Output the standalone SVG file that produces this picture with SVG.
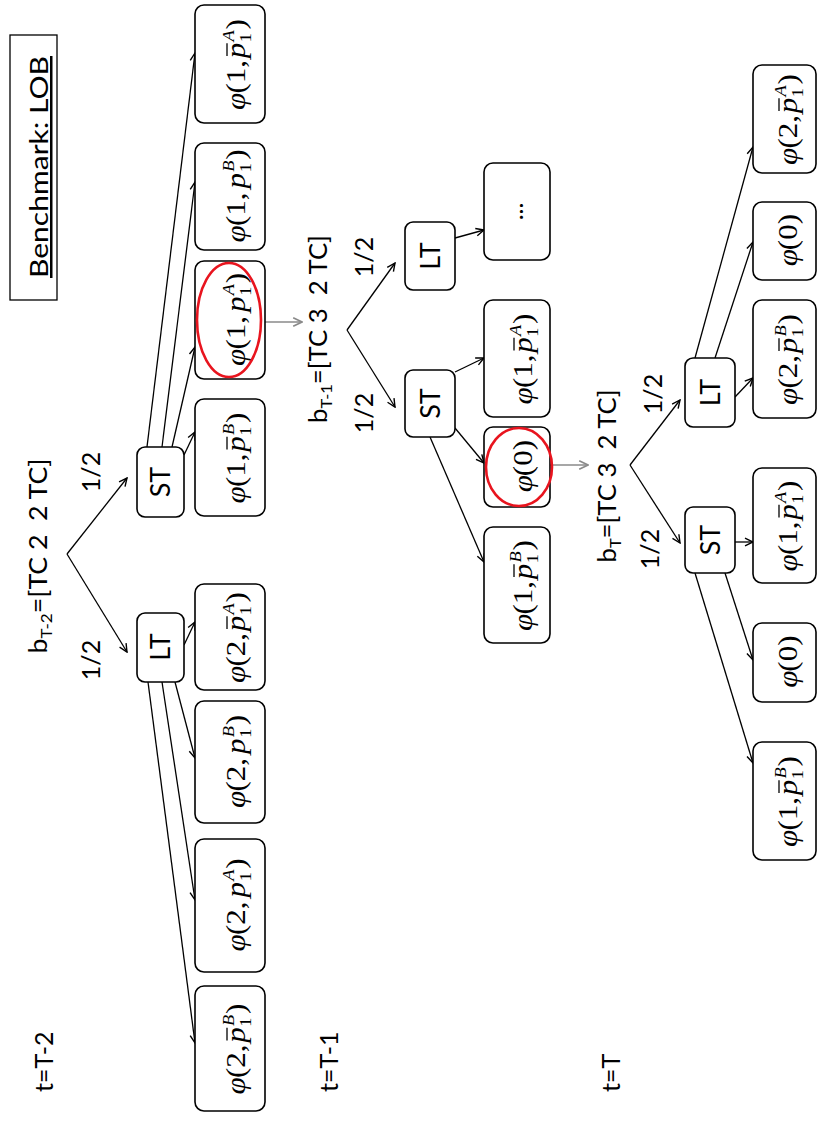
<svg xmlns="http://www.w3.org/2000/svg" width="817" height="1121" viewBox="0 0 817 1121">
  <defs>
    <style>
      .box { fill: #fff; stroke: #000; stroke-width: 1.6; }
      .frame { fill: #fff; stroke: #000; stroke-width: 1.3; }
      .lab { font-family: Lato, "Liberation Sans", sans-serif; font-size: 25px; fill: #000; }
      .big { font-size: 27px; }
      .m { font-family: "Liberation Serif", serif; font-size: 27px; fill: #000; }
      .it { font-style: italic; }
      .s { font-size: 16px; }
      .bar { stroke: #000; stroke-width: 1.3; }
      .c { stroke: #000; stroke-width: 1.3; fill: none; marker-end: url(#arr); }
      .g { stroke: #8a8a8a; stroke-width: 1.6; fill: none; marker-end: url(#arrg); }
      .ring { fill: none; stroke: #e8141e; stroke-width: 2.6; }
    </style>
    <marker id="arr" viewBox="0 0 10 10" refX="9" refY="5" markerWidth="10" markerHeight="10" orient="auto" markerUnits="userSpaceOnUse">
      <path d="M1,1.2 L9,5 L1,8.8" fill="none" stroke="#000" stroke-width="1.4"/>
    </marker>
    <marker id="arrg" viewBox="0 0 10 10" refX="9" refY="5" markerWidth="11" markerHeight="11" orient="auto" markerUnits="userSpaceOnUse">
      <path d="M1,1.2 L9,5 L1,8.8" fill="none" stroke="#8a8a8a" stroke-width="1.5"/>
    </marker>
  </defs>

  <rect width="817" height="1121" fill="#fff"/>

  <!-- title -->
  <g id="title">
    <rect class="frame" x="10" y="35" width="47" height="265"/>
    <text class="lab" transform="translate(48,167) rotate(-90)" text-anchor="middle" text-decoration="underline" font-size="27" textLength="222" lengthAdjust="spacingAndGlyphs">Benchmark: LOB</text>
  </g>

  <!-- period labels -->
  <g id="periods" class="lab">
    <text transform="translate(53,1092) rotate(-90)">t=T-2</text>
    <text transform="translate(338,1092) rotate(-90)">t=T-1</text>
    <text transform="translate(620,1092) rotate(-90)">t=T</text>
  </g>

  <!-- belief states and branch probabilities -->
  <g id="beliefs" class="lab">
    <text transform="translate(47,556) rotate(-90)" text-anchor="middle" textLength="195" lengthAdjust="spacingAndGlyphs">b<tspan class="s" dy="5">T-2</tspan><tspan dy="-5">=[TC 2&#160; 2 TC]</tspan></text>
    <text transform="translate(327,329) rotate(-90)" text-anchor="middle" textLength="188" lengthAdjust="spacingAndGlyphs">b<tspan class="s" dy="5">T-1</tspan><tspan dy="-5">=[TC 3&#160; 2 TC]</tspan></text>
    <text transform="translate(616,476) rotate(-90)" text-anchor="middle" textLength="173" lengthAdjust="spacingAndGlyphs">b<tspan class="s" dy="5">T</tspan><tspan dy="-5">=[TC 3&#160; 2 TC]</tspan></text>
    <text transform="translate(100,472) rotate(-90)" text-anchor="middle">1/2</text>
    <text transform="translate(100,660) rotate(-90)" text-anchor="middle">1/2</text>
    <text transform="translate(373,257) rotate(-90)" text-anchor="middle">1/2</text>
    <text transform="translate(373,413) rotate(-90)" text-anchor="middle">1/2</text>
    <text transform="translate(662,394) rotate(-90)" text-anchor="middle">1/2</text>
    <text transform="translate(659,549) rotate(-90)" text-anchor="middle">1/2</text>
  </g>

  <!-- connectors -->
  <g id="connectors">
    <!-- t = T-2 -->
    <line class="c" x1="67" y1="554" x2="127" y2="478"/>
    <line class="c" x1="67" y1="554" x2="127" y2="652"/>
    <line class="c" x1="147" y1="447" x2="195" y2="53"/>
    <line class="c" x1="162" y1="447" x2="195" y2="182"/>
    <line class="c" x1="172" y1="447" x2="195" y2="347"/>
    <line class="c" x1="184" y1="455" x2="195" y2="432"/>
    <line class="c" x1="184" y1="645" x2="195" y2="622"/>
    <line class="c" x1="175" y1="682" x2="195" y2="758"/>
    <line class="c" x1="162" y1="682" x2="195" y2="900"/>
    <line class="c" x1="148" y1="682" x2="195" y2="1043"/>
    <line class="g" x1="265" y1="322" x2="302" y2="322"/>
    <!-- t = T-1 -->
    <line class="c" x1="347" y1="330" x2="395" y2="263"/>
    <line class="c" x1="347" y1="330" x2="395" y2="407"/>
    <line class="c" x1="455" y1="238" x2="484" y2="230"/>
    <line class="c" x1="455" y1="372" x2="484" y2="358"/>
    <line class="c" x1="455" y1="428" x2="484" y2="463"/>
    <line class="c" x1="430" y1="437" x2="484" y2="562"/>
    <line class="g" x1="550" y1="465" x2="588" y2="465"/>
    <!-- t = T -->
    <line class="c" x1="630" y1="465" x2="680" y2="400"/>
    <line class="c" x1="630" y1="465" x2="680" y2="543"/>
    <line class="c" x1="695" y1="358" x2="753" y2="147"/>
    <line class="c" x1="715" y1="358" x2="753" y2="242"/>
    <line class="c" x1="735" y1="397" x2="753" y2="378"/>
    <line class="c" x1="735" y1="542" x2="753" y2="542"/>
    <line class="c" x1="725" y1="573" x2="753" y2="660"/>
    <line class="c" x1="695" y1="573" x2="753" y2="763"/>
  </g>

  <!-- t = T-2 : decisions -->
  <g id="st1">
    <rect class="box" x="137" y="447" width="47" height="70" rx="8"/>
    <text class="lab big" transform="translate(170,482) rotate(-90)" text-anchor="middle">ST</text>
  </g>
  <g id="lt1">
    <rect class="box" x="137" y="613" width="47" height="69" rx="8"/>
    <text class="lab big" transform="translate(170,647) rotate(-90)" text-anchor="middle">LT</text>
  </g>

  <!-- t = T-2 : outcomes -->
  <g id="n1a">
    <rect class="box" x="195" y="5" width="70" height="118" rx="9"/>
    <g class="m" transform="translate(245,64) rotate(-90) scale(1.15,1)">
      <text><tspan class="it" x="-40">φ</tspan><tspan x="-25.7">(1,</tspan><tspan class="it" x="5">p</tspan><tspan class="s" x="19" y="6">1</tspan><tspan class="s it" x="19.5" y="-11">A</tspan><tspan x="30" y="0">)</tspan></text>
      <line class="bar" x1="7" y1="-18" x2="18" y2="-18"/>
    </g>
  </g>
  <g id="n1b">
    <rect class="box" x="195" y="143" width="70" height="107" rx="9"/>
    <g class="m" transform="translate(245,196.5) rotate(-90) scale(1.15,1)">
      <text><tspan class="it" x="-40">φ</tspan><tspan x="-25.7">(1,</tspan><tspan class="it" x="7">p</tspan><tspan class="s" x="21" y="6">1</tspan><tspan class="s it" x="21.5" y="-11">B</tspan><tspan x="32" y="0">)</tspan></text>
    </g>
  </g>
  <g id="n1c">
    <rect class="box" x="195" y="261" width="70" height="118" rx="9"/>
    <g class="m" transform="translate(245,320) rotate(-90) scale(1.15,1)">
      <text><tspan class="it" x="-40">φ</tspan><tspan x="-25.7">(1,</tspan><tspan class="it" x="7">p</tspan><tspan class="s" x="21" y="6">1</tspan><tspan class="s it" x="21.5" y="-11">A</tspan><tspan x="32" y="0">)</tspan></text>
    </g>
    <ellipse class="ring" cx="229" cy="320" rx="32" ry="57"/>
  </g>
  <g id="n1d">
    <rect class="box" x="195" y="399" width="70" height="117" rx="9"/>
    <g class="m" transform="translate(245,457.5) rotate(-90) scale(1.15,1)">
      <text><tspan class="it" x="-40">φ</tspan><tspan x="-25.7">(1,</tspan><tspan class="it" x="5">p</tspan><tspan class="s" x="19" y="6">1</tspan><tspan class="s it" x="19.5" y="-11">B</tspan><tspan x="30" y="0">)</tspan></text>
      <line class="bar" x1="7" y1="-18" x2="18" y2="-18"/>
    </g>
  </g>
  <g id="n1e">
    <rect class="box" x="195" y="584" width="70" height="106" rx="9"/>
    <g class="m" transform="translate(245,637) rotate(-90) scale(1.15,1)">
      <text><tspan class="it" x="-40">φ</tspan><tspan x="-25.7">(2,</tspan><tspan class="it" x="5">p</tspan><tspan class="s" x="19" y="6">1</tspan><tspan class="s it" x="19.5" y="-11">A</tspan><tspan x="30" y="0">)</tspan></text>
      <line class="bar" x1="7" y1="-18" x2="18" y2="-18"/>
    </g>
  </g>
  <g id="n1f">
    <rect class="box" x="195" y="701" width="70" height="122" rx="9"/>
    <g class="m" transform="translate(245,762) rotate(-90) scale(1.15,1)">
      <text><tspan class="it" x="-40">φ</tspan><tspan x="-25.7">(2,</tspan><tspan class="it" x="7">p</tspan><tspan class="s" x="21" y="6">1</tspan><tspan class="s it" x="21.5" y="-11">B</tspan><tspan x="32" y="0">)</tspan></text>
    </g>
  </g>
  <g id="n1g">
    <rect class="box" x="195" y="839" width="70" height="133" rx="9"/>
    <g class="m" transform="translate(245,905.5) rotate(-90) scale(1.15,1)">
      <text><tspan class="it" x="-40">φ</tspan><tspan x="-25.7">(2,</tspan><tspan class="it" x="7">p</tspan><tspan class="s" x="21" y="6">1</tspan><tspan class="s it" x="21.5" y="-11">A</tspan><tspan x="32" y="0">)</tspan></text>
    </g>
  </g>
  <g id="n1h">
    <rect class="box" x="195" y="986" width="70" height="125" rx="9"/>
    <g class="m" transform="translate(245,1048.5) rotate(-90) scale(1.15,1)">
      <text><tspan class="it" x="-40">φ</tspan><tspan x="-25.7">(2,</tspan><tspan class="it" x="5">p</tspan><tspan class="s" x="19" y="6">1</tspan><tspan class="s it" x="19.5" y="-11">B</tspan><tspan x="30" y="0">)</tspan></text>
      <line class="bar" x1="7" y1="-18" x2="18" y2="-18"/>
    </g>
  </g>

  <!-- t = T-1 : decisions -->
  <g id="lt2">
    <rect class="box" x="405" y="222" width="50" height="68" rx="8"/>
    <text class="lab big" transform="translate(440,256) rotate(-90)" text-anchor="middle">LT</text>
  </g>
  <g id="st2">
    <rect class="box" x="405" y="370" width="50" height="67" rx="8"/>
    <text class="lab big" transform="translate(440,403.5) rotate(-90)" text-anchor="middle">ST</text>
  </g>

  <!-- t = T-1 : outcomes -->
  <g id="n2a">
    <rect class="box" x="484" y="163" width="66" height="97" rx="9"/>
    <text class="lab" transform="translate(523,211.5) rotate(-90)" text-anchor="middle">...</text>
  </g>
  <g id="n2b">
    <rect class="box" x="484" y="300" width="66" height="117" rx="9"/>
    <g class="m" transform="translate(532,358.5) rotate(-90) scale(1.15,1)">
      <text><tspan class="it" x="-40">φ</tspan><tspan x="-25.7">(1,</tspan><tspan class="it" x="5">p</tspan><tspan class="s" x="19" y="6">1</tspan><tspan class="s it" x="19.5" y="-11">A</tspan><tspan x="30" y="0">)</tspan></text>
      <line class="bar" x1="7" y1="-18" x2="18" y2="-18"/>
    </g>
  </g>
  <g id="n2c">
    <rect class="box" x="484" y="427" width="66" height="80" rx="9"/>
    <g class="m" transform="translate(532,467) rotate(-90) scale(1.15,1)">
      <text><tspan class="it" x="-22">φ</tspan><tspan x="-8">(0)</tspan></text>
    </g>
    <ellipse class="ring" cx="519" cy="467" rx="33" ry="39"/>
  </g>
  <g id="n2d">
    <rect class="box" x="484" y="527" width="66" height="116" rx="9"/>
    <g class="m" transform="translate(532,585) rotate(-90) scale(1.15,1)">
      <text><tspan class="it" x="-40">φ</tspan><tspan x="-25.7">(1,</tspan><tspan class="it" x="5">p</tspan><tspan class="s" x="19" y="6">1</tspan><tspan class="s it" x="19.5" y="-11">B</tspan><tspan x="30" y="0">)</tspan></text>
      <line class="bar" x1="7" y1="-18" x2="18" y2="-18"/>
    </g>
  </g>

  <!-- t = T : decisions -->
  <g id="lt3">
    <rect class="box" x="685" y="358" width="50" height="69" rx="8"/>
    <text class="lab big" transform="translate(720,392.5) rotate(-90)" text-anchor="middle">LT</text>
  </g>
  <g id="st3">
    <rect class="box" x="685" y="507" width="50" height="66" rx="8"/>
    <text class="lab big" transform="translate(720,540) rotate(-90)" text-anchor="middle">ST</text>
  </g>

  <!-- t = T : outcomes -->
  <g id="n3a">
    <rect class="box" x="753" y="65" width="63" height="108" rx="9"/>
    <g class="m" transform="translate(797,119) rotate(-90) scale(1.15,1)">
      <text><tspan class="it" x="-40">φ</tspan><tspan x="-25.7">(2,</tspan><tspan class="it" x="5">p</tspan><tspan class="s" x="19" y="6">1</tspan><tspan class="s it" x="19.5" y="-11">A</tspan><tspan x="30" y="0">)</tspan></text>
      <line class="bar" x1="7" y1="-18" x2="18" y2="-18"/>
    </g>
  </g>
  <g id="n3b">
    <rect class="box" x="753" y="202" width="63" height="78" rx="9"/>
    <g class="m" transform="translate(797,241) rotate(-90) scale(1.15,1)">
      <text><tspan class="it" x="-22">φ</tspan><tspan x="-8">(0)</tspan></text>
    </g>
  </g>
  <g id="n3c">
    <rect class="box" x="753" y="300" width="63" height="118" rx="9"/>
    <g class="m" transform="translate(797,359) rotate(-90) scale(1.15,1)">
      <text><tspan class="it" x="-40">φ</tspan><tspan x="-25.7">(2,</tspan><tspan class="it" x="5">p</tspan><tspan class="s" x="19" y="6">1</tspan><tspan class="s it" x="19.5" y="-11">B</tspan><tspan x="30" y="0">)</tspan></text>
      <line class="bar" x1="7" y1="-18" x2="18" y2="-18"/>
    </g>
  </g>
  <g id="n3d">
    <rect class="box" x="753" y="468" width="63" height="115" rx="9"/>
    <g class="m" transform="translate(797,525.5) rotate(-90) scale(1.15,1)">
      <text><tspan class="it" x="-40">φ</tspan><tspan x="-25.7">(1,</tspan><tspan class="it" x="5">p</tspan><tspan class="s" x="19" y="6">1</tspan><tspan class="s it" x="19.5" y="-11">A</tspan><tspan x="30" y="0">)</tspan></text>
      <line class="bar" x1="7" y1="-18" x2="18" y2="-18"/>
    </g>
  </g>
  <g id="n3e">
    <rect class="box" x="753" y="623" width="63" height="79" rx="9"/>
    <g class="m" transform="translate(797,662.5) rotate(-90) scale(1.15,1)">
      <text><tspan class="it" x="-22">φ</tspan><tspan x="-8">(0)</tspan></text>
    </g>
  </g>
  <g id="n3f">
    <rect class="box" x="753" y="742" width="63" height="118" rx="9"/>
    <g class="m" transform="translate(797,801) rotate(-90) scale(1.15,1)">
      <text><tspan class="it" x="-40">φ</tspan><tspan x="-25.7">(1,</tspan><tspan class="it" x="5">p</tspan><tspan class="s" x="19" y="6">1</tspan><tspan class="s it" x="19.5" y="-11">B</tspan><tspan x="30" y="0">)</tspan></text>
      <line class="bar" x1="7" y1="-18" x2="18" y2="-18"/>
    </g>
  </g>
</svg>
